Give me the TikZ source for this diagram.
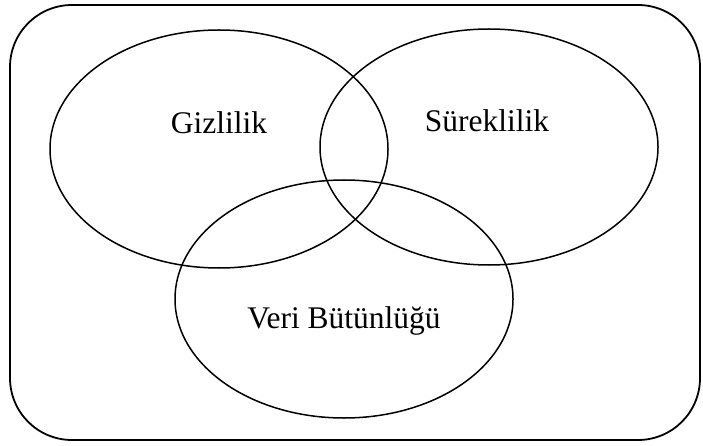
\documentclass[tikz,border=0pt]{standalone}
\usepackage{fontspec}
\setmainfont{Liberation Serif}
\usepackage{tikz}

\begin{document}
\begin{tikzpicture}[
    x=1pt, y=-1pt,
    frame/.style={draw=black, line width=1.8pt, rounded corners=62pt},
    set/.style={draw=black, line width=1.5pt},
    setlabel/.style={anchor=base, inner sep=0pt, font=\fontsize{31.5}{36}\selectfont},
]
\useasboundingbox (0,0) rectangle (703,446);

\draw[frame] (10,5) rectangle (700,440);

% three sets
\draw[set] (219,149) ellipse [x radius=169, y radius=119];
\draw[set] (489,147) ellipse [x radius=169, y radius=118];
\draw[set] (344,299) ellipse [x radius=169, y radius=119];

\node[setlabel] (gizlilik) at (219,134) {Gizlilik};
\node[setlabel] (sureklilik) at (487,132) {Süreklilik};
\node[setlabel] (butunluk) at (344,328) {Veri Bütünlüğü};

\end{tikzpicture}
\end{document}
